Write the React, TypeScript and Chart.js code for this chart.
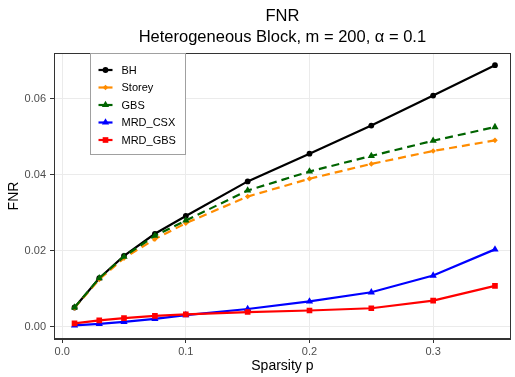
import React, { useEffect, useRef } from "react";
import { Chart, registerables } from "chart.js";

Chart.register(...registerables);

const pValues = [0.01, 0.03, 0.05, 0.075, 0.1, 0.15, 0.2, 0.25, 0.3, 0.35];
const bhValues = [0.0051, 0.0128, 0.0187, 0.0245, 0.0292, 0.0383, 0.0456, 0.053, 0.0609, 0.0689];
const storeyValues = [0.005, 0.0125, 0.0181, 0.0231, 0.0273, 0.0343, 0.039, 0.0429, 0.0463, 0.0491];
const gbsValues = [0.0051, 0.0128, 0.0185, 0.024, 0.028, 0.0359, 0.0409, 0.045, 0.049, 0.0526];
const mrdCsxValues = [0.0004, 0.0008, 0.0013, 0.0021, 0.0031, 0.0047, 0.0067, 0.0091, 0.0135, 0.0204];
const mrdGbsValues = [0.0009, 0.0017, 0.0023, 0.0029, 0.0033, 0.0039, 0.0043, 0.0049, 0.0069, 0.0108];

const seriesNames = ["BH", "Storey", "GBS", "MRD_CSX", "MRD_GBS"];
const xTickValues = [0, 0.1, 0.2, 0.3];
const yTickValues = [0, 0.02, 0.04, 0.06];

const titleText = "FNR";
const subtitleText = "Heterogeneous Block, m = 200, α = 0.1";
const xLabel = "Sparsity p";
const yLabel = "FNR";

const FONT = "'Liberation Sans', Arial, sans-serif";

function drawMarker(ctx: CanvasRenderingContext2D, style: string, r: number, x: number, y: number) {
  ctx.beginPath();
  if (style === "circle") {
    ctx.arc(x, y, r, 0, Math.PI * 2);
  } else if (style === "rect") {
    const s = Math.SQRT1_2 * r;
    ctx.rect(x - s, y - s, 2 * s, 2 * s);
  } else if (style === "rectRot") {
    ctx.moveTo(x, y - r);
    ctx.lineTo(x + r, y);
    ctx.lineTo(x, y + r);
    ctx.lineTo(x - r, y);
    ctx.closePath();
  } else if (style === "triangle") {
    for (let k = 0; k < 3; k++) {
      const ang = (k * 2 * Math.PI) / 3;
      const px = x + Math.sin(ang) * r;
      const py = y - Math.cos(ang) * r;
      if (k === 0) ctx.moveTo(px, py);
      else ctx.lineTo(px, py);
    }
    ctx.closePath();
  }
  ctx.fill();
}

export default function App() {
  const ref = useRef<HTMLCanvasElement | null>(null);

  useEffect(() => {
    const canvas = ref.current;
    if (!canvas) return;
    const allValues = [bhValues, storeyValues, gbsValues, mrdCsxValues, mrdGbsValues];
    const colors = ["#000000", "#FF8C00", "#006400", "#0000FF", "#FF0000"];
    const styles: any[] = ["circle", "rectRot", "triangle", "triangle", "rect"];
    const radii = [2.9, 2.8, 4.2, 4.2, 4.0];
    const dashes = [[], [8, 5], [8, 5], [], []];

    const datasets = seriesNames.map((name, i) => ({
      label: name,
      data: pValues.map((p, j) => ({ x: p, y: allValues[i][j] })),
      borderColor: colors[i],
      backgroundColor: colors[i],
      borderWidth: 2.2,
      borderDash: dashes[i],
      pointStyle: styles[i],
      pointRadius: radii[i],
      pointBorderWidth: 0,
      pointBackgroundColor: colors[i],
      tension: 0,
      order: 4 - i,
    }));

    const textPlugin = {
      id: "customText",
      afterDraw(chart: any) {
        const ctx = chart.ctx;
        const a = chart.chartArea;
        ctx.save();
        ctx.strokeStyle = "#333333";
        ctx.lineWidth = 1;
        ctx.strokeRect(Math.round(a.left) + 0.5, Math.round(a.top) + 0.5, Math.round(a.right - a.left) - 1, Math.round(a.bottom - a.top) - 1);
        const cx = (a.left + a.right) / 2;
        ctx.fillStyle = "#000000";
        ctx.textAlign = "center";
        ctx.textBaseline = "middle";
        ctx.font = `16.5px ${FONT}`;
        ctx.fillText(titleText, cx, 16);
        ctx.fillText(subtitleText, cx, 37);
        ctx.font = `14px ${FONT}`;
        ctx.fillText(xLabel, cx, 366);
        ctx.save();
        ctx.translate(14, (a.top + a.bottom) / 2);
        ctx.rotate(-Math.PI / 2);
        ctx.fillText(yLabel, 0, 0);
        ctx.restore();
        const bx = a.left + 36.5;
        const by = a.top + 0.5;
        const bw = 95;
        const bh = 101;
        ctx.fillStyle = "#ffffff";
        ctx.fillRect(bx, by, bw, bh);
        ctx.strokeStyle = "#a0a0a0";
        ctx.lineWidth = 1;
        ctx.strokeRect(bx, by, bw, bh);
        ctx.textAlign = "left";
        ctx.font = `11px ${FONT}`;
        seriesNames.forEach((name, i) => {
          const y = by + 16.5 + i * 17.5;
          ctx.strokeStyle = colors[i];
          ctx.lineWidth = 2.2;
          ctx.setLineDash([]);
          ctx.beginPath();
          ctx.moveTo(bx + 8, y);
          ctx.lineTo(bx + 22, y);
          ctx.stroke();
          ctx.fillStyle = colors[i];
          drawMarker(ctx, styles[i], radii[i], bx + 15, y);
          ctx.fillStyle = "#000000";
          ctx.fillText(name, bx + 31, y + 0.5);
        });
        ctx.restore();
      },
    };

    const chart = new Chart(canvas, {
      type: "line",
      data: { datasets },
      plugins: [textPlugin],
      options: {
        animation: false,
        responsive: false,
        maintainAspectRatio: false,
        layout: { padding: { top: 53, right: 1, left: 0, bottom: 0 } },
        plugins: { legend: { display: false }, tooltip: { enabled: false }, title: { display: false } },
        scales: {
          x: {
            type: "linear",
            min: -0.0066,
            max: 0.3628,
            afterFit(scale: any) {
              scale.height = 38;
            },
            afterBuildTicks(scale: any) {
              scale.ticks = xTickValues.map((v) => ({ value: v }));
            },
            grid: { color: "#ebebeb", tickColor: "#333333", tickLength: 4, lineWidth: 1 },
            border: { display: true, color: "#333333" },
            ticks: {
              padding: 2,
              color: "#4d4d4d",
              font: { family: FONT, size: 11 },
              callback: (v: any) => Number(v).toFixed(1),
              maxRotation: 0,
              autoSkip: false,
            },
          },
          y: {
            type: "linear",
            min: -0.0032,
            max: 0.0721,
            afterFit(scale: any) {
              scale.width = 54;
            },
            afterBuildTicks(scale: any) {
              scale.ticks = yTickValues.map((v) => ({ value: v }));
            },
            grid: { color: "#ebebeb", tickColor: "#333333", tickLength: 4, lineWidth: 1 },
            border: { display: true, color: "#333333" },
            ticks: {
              padding: 4,
              color: "#4d4d4d",
              font: { family: FONT, size: 11 },
              callback: (v: any) => Number(v).toFixed(2),
              autoSkip: false,
            },
          },
        },
      },
    });
    return () => chart.destroy();
  }, []);

  return (
    <div style={{ position: "fixed", left: 0, top: 0, width: 515, height: 377, background: "#ffffff" }}>
      <canvas ref={ref} width={515} height={377} style={{ width: 515, height: 377, display: "block" }} />
    </div>
  );
}
